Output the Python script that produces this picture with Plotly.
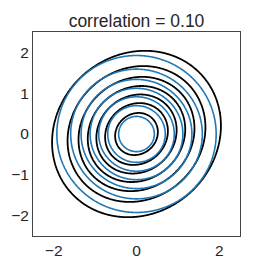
import numpy as np
import plotly.graph_objects as go

# data
correlation_black = 0.10
correlation_blue = 0.0
levels_black = [0.02, 0.04, 0.06, 0.08, 0.10, 0.12, 0.14]
levels_blue = [0.025, 0.045, 0.065, 0.085, 0.105, 0.125, 0.145]
x_ticks = [-2, 0, 2]
y_ticks = [-2, -1, 0, 1, 2]
title_text = "correlation = 0.10"

grid = np.linspace(-2.5, 2.5, 251)
X, Y = np.meshgrid(grid, grid)


def density(rho):
    q = (X**2 - 2 * rho * X * Y + Y**2) / (1 - rho**2)
    return np.exp(-q / 2) / (2 * np.pi * np.sqrt(1 - rho**2))


fig = go.Figure()


def add_levels(z, levels, color, width):
    for lv in levels:
        fig.add_trace(go.Contour(
            x=grid, y=grid, z=z,
            contours=dict(start=lv, end=lv, size=1, coloring="lines"),
            colorscale=[[0, color], [1, color]],
            line=dict(width=width),
            showscale=False, hoverinfo="skip",
        ))


add_levels(density(correlation_black), levels_black, "#000000", 1.8)
add_levels(density(correlation_blue), levels_blue, "#1f77b4", 1.6)

# page body has an 8px default margin, so the figure is 258x258
font = "Liberation Sans, Arial, sans-serif"
fig.update_layout(
    width=258, height=258,
    margin=dict(l=25, r=26, t=24, b=30, autoexpand=False),
    paper_bgcolor="white", plot_bgcolor="white",
    showlegend=False,
    title=dict(text=title_text, x=0.5, xref="paper", xanchor="center",
               y=1, yref="paper", yanchor="bottom", pad=dict(b=5),
               font=dict(family=font, size=17.5, color="#262626")),
    font=dict(family=font, size=15, color="#262626"),
)
axis_common = dict(range=[-2.5, 2.5], showgrid=False, zeroline=False, automargin=False,
                    showline=True, linecolor="#444444", linewidth=1, mirror=True,
                    ticks="", tickfont=dict(family=font, size=15.5, color="#262626"))
fig.update_xaxes(tickvals=x_ticks, ticktext=[str(v).replace("-", "\u2212") for v in x_ticks], **axis_common)
fig.update_yaxes(tickvals=y_ticks, ticktext=[str(v).replace("-", "\u2212") for v in y_ticks], **axis_common)

fig.write_html("out.html")
